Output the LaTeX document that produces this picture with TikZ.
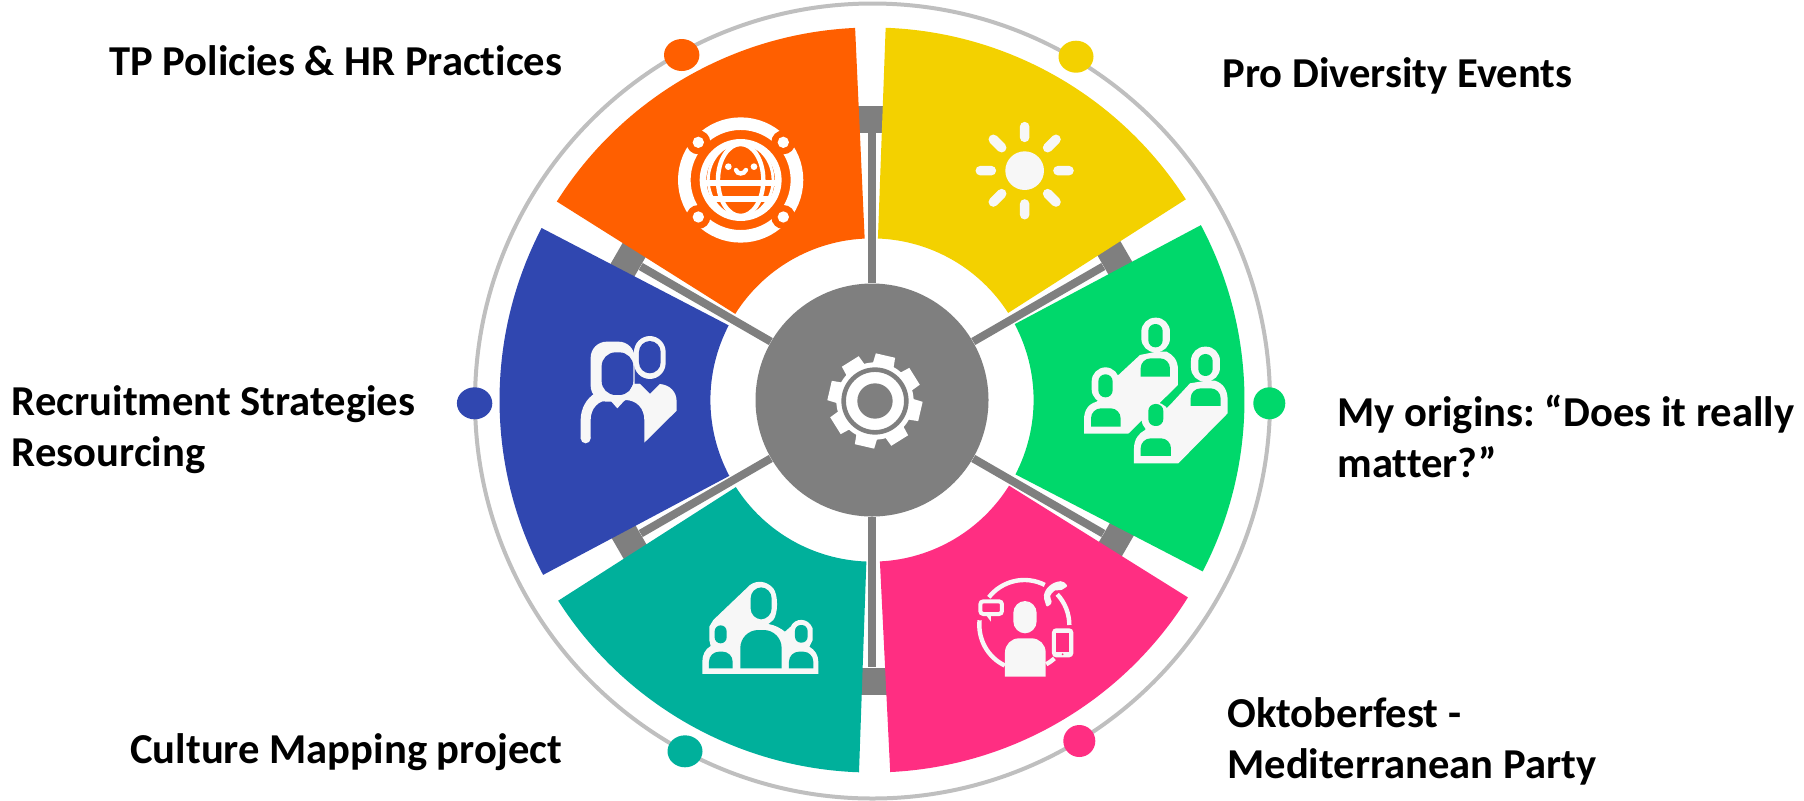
\documentclass[tikz,border=0pt]{standalone}
\usepackage{fontspec}
\setmainfont[Ligatures=CommonOff]{Carlito}
\usetikzlibrary{shapes.geometric}
\definecolor{segorange}{HTML}{FF5F00}
\definecolor{segyellow}{HTML}{F3D100}
\definecolor{seggreen}{HTML}{00D86B}
\definecolor{segpink}{HTML}{FF2E82}
\definecolor{segteal}{HTML}{00B09B}
\definecolor{segblue}{HTML}{3047B0}
\definecolor{hubgrey}{HTML}{7F7F7F}
\definecolor{ringgrey}{HTML}{BFBFBF}
\definecolor{iconwhite}{HTML}{F7F7F7}
\frenchspacing
\tikzset{
  lbl/.style={anchor=base west,inner sep=0pt,font=\fontsize{21.3}{25}\selectfont\bfseries},
  hubnode/.style={circle,fill=hubgrey,inner sep=0pt,minimum size=116.5pt},
  capblock/.style={rectangle,fill=hubgrey,inner sep=0pt,minimum width=13.5pt,minimum height=20pt},
  spoke/.style={draw=hubgrey,line width=4pt},
  dotnode/.style={ellipse,inner sep=0pt,minimum width=#1,minimum height=16pt},
}
\begin{document}
\begin{tikzpicture}[x=0.5pt,y=-0.5pt]
\useasboundingbox (0,0) rectangle (1804,800);

\draw[ringgrey,line width=2pt] (872.5,401) circle (397.5);

\begin{scope}[shift={(872,400)}]
\node[hubnode] (hub) at (0,0) {};
\node[capblock,rotate=90] (capA) at (270:281) {};
\node[capblock,rotate=30] (capB) at (330:281) {};
\node[capblock,rotate=-30] (capC) at (30:281) {};
\node[capblock,rotate=90] (capD) at (90:281) {};
\node[capblock,rotate=30] (capE) at (150:281) {};
\node[capblock,rotate=-30] (capF) at (210:281) {};
\draw[spoke] (hub) -- (capA);
\draw[spoke] (hub) -- (capB);
\draw[spoke] (hub) -- (capC);
\draw[spoke] (hub) -- (capD);
\draw[spoke] (hub) -- (capE);
\draw[spoke] (hub) -- (capF);

\fill[segorange] (212.2:372.5) arc (212.2:267.4:372.5) -- (267.4:161.6) arc (267.4:212.2:161.6) -- cycle;
\fill[segyellow] (272.1:372.5) arc (272.1:327.4:372.5) -- (327.4:161.6) arc (327.4:272.1:161.6) -- cycle;
\fill[seggreen] (332:372.5) arc (332:387.4:372.5) -- (387.4:161.6) arc (387.4:332:161.6) -- cycle;
\fill[segpink] (32:372.5) arc (32:87.2:372.5) -- (87.2:161.6) arc (87.2:32:161.6) -- cycle;
\fill[segteal] (92:372.5) arc (92:147.4:372.5) -- (147.4:161.6) arc (147.4:92:161.6) -- cycle;
\fill[segblue] (152:372.5) arc (152:207.5:372.5) -- (207.5:161.6) arc (207.5:152:161.6) -- cycle;
\end{scope}

\node[dotnode=17.7pt,fill=segorange] (dotorange) at (681.7,55) {};
\node[dotnode=17.5pt,fill=segyellow] (dotyellow) at (1076,56.7) {};
\node[dotnode=16pt,fill=seggreen] (dotgreen) at (1269.3,403.3) {};
\node[dotnode=16pt,fill=segpink] (dotpink) at (1079.3,741) {};
\node[dotnode=17.5pt,fill=segteal] (dotteal) at (685,751.3) {};
\node[dotnode=17.7pt,fill=segblue] (dotblue) at (474.6,403.3) {};

\node[lbl] (tp) at (109,75) {TP Policies \& HR Practices};
\node[lbl] (recruit) at (11.5,415) {Recruitment Strategies};
\node[lbl] (resource) at (11.5,466) {Resourcing};
\node[lbl] (culture) at (130,763) {Culture Mapping project};
\node[lbl] (pro) at (1222,87) {Pro Diversity Events};
\node[lbl] (origins) at (1337,426) {My origins: “Does it really};
\node[lbl] (matter) at (1337,477) {matter?”};
\node[lbl] (okto) at (1227,727) {Oktoberfest -};
\node[lbl] (medi) at (1227,778) {Mediterranean Party};

% gear
\begin{scope}[shift={(740,260)},scale=0.3333]
\fill[white] (405,423) circle (116);
\foreach \a in {283,328,13,58,103,148,193,238}
  \fill[white,shift={(405,423)}] (\a-18:105) -- (\a-12:143) -- (\a+12:143) -- (\a+18:105) -- cycle;
\draw[hubgrey,line width=2.3pt] (405,423) circle (94);
\fill[hubgrey] (405,423) circle (53);
\end{scope}

% globe
\begin{scope}[shift={(520,0)},scale=0.3333]
\draw[white,line width=6.3pt] (662,540) circle (169);
\fill[segorange] (535,427) circle (36);
\fill[segorange] (790,427) circle (36);
\fill[segorange] (535,651) circle (36);
\fill[segorange] (790,651) circle (36);
\fill[white] (535,427) circle (17);
\fill[white] (790,427) circle (17);
\fill[white] (535,651) circle (17);
\fill[white] (790,651) circle (17);
\draw[white,line width=3.3pt] (662,540) circle (113);
\draw[white,line width=2.2pt] (662,540) ellipse (68 and 108);
\draw[white,line width=1.4pt] (662,540) ellipse (97 and 110);
\draw[white,line width=3pt] (552,548) -- (772,548);
\draw[white,line width=3pt] (566,596) -- (758,596);
\fill[white] (625,500) circle (10);
\fill[white] (702,500) circle (10);
\draw[white,line width=2.2pt,line cap=round] (648,510) .. controls (652,524) and (672,524) .. (678,510);
\end{scope}

% sun
\begin{scope}[shift={(860,0)},scale=0.3333]
\fill[iconwhite] (494,512) circle (58);
\draw[iconwhite,line width=4.8pt,line cap=round] (494,380) -- (494,412) (494,644) -- (494,612)
  (361,512) -- (394,512) (627,512) -- (594,512)
  (400,418) -- (425,443) (588,418) -- (563,443) (400,606) -- (425,581) (588,606) -- (563,581);
\end{scope}

% green people
\begin{scope}[shift={(960,220)},scale=0.3333]
\fill[iconwhite] (372,641) -- (372,600) .. controls (372,570) and (385,552) .. (410,545) -- (470,470) -- (540,405) -- (590,395) -- (620,395) .. controls (640,405) and (654,420) .. (654,450) -- (654,495) -- (505,641) -- cycle;
\fill[iconwhite] (522,730) -- (522,685) .. controls (522,660) and (535,640) .. (555,630) -- (630,555) -- (690,490) -- (740,482) -- (765,482) .. controls (790,490) and (803,510) .. (803,540) -- (803,580) -- (655,730) -- cycle;
\fill[iconwhite,rounded corners=7pt] (544,293) rectangle (630,397);
\fill[iconwhite,rounded corners=7pt] (395,442) rectangle (478,550);
\fill[iconwhite,rounded corners=7pt] (693,380) rectangle (780,485);
\fill[iconwhite,rounded corners=7pt] (545,548) rectangle (630,640);
\fill[seggreen,rounded corners=3.5pt] (565,312) rectangle (608,382);
\fill[seggreen,rounded corners=3.5pt] (415,463) rectangle (458,532);
\fill[seggreen,rounded corners=3.5pt] (715,402) rectangle (758,468);
\fill[seggreen,rounded corners=3.5pt] (565,552) rectangle (610,618);
\fill[seggreen] (542,470) [rounded corners=5pt] -- (542,415) -- (630,415) [sharp corners] -- (630,470) -- cycle;
\fill[seggreen] (393,620) [rounded corners=5pt] -- (393,565) -- (482,565) [sharp corners] -- (482,620) -- cycle;
\fill[seggreen] (692,558) [rounded corners=5pt] -- (692,505) -- (782,505) [sharp corners] -- (782,558) -- cycle;
\fill[seggreen] (542,708) [rounded corners=5pt] -- (542,655) -- (633,655) [sharp corners] -- (633,708) -- cycle;
\end{scope}

% pink person
\begin{scope}[shift={(860,480)},scale=0.3333]
\draw[iconwhite,line width=2.2pt] (493,435) ++(115.8:135) arc (115.8:186:135);
\draw[iconwhite,line width=2.2pt] (493,435) ++(218:135) arc (218:297:135);
\draw[iconwhite,line width=2.2pt] (493,435) ++(317:135) arc (317:360:135);
\draw[iconwhite,line width=2.2pt] (493,435) ++(60.8:135) arc (60.8:48:135);
\fill[iconwhite,rounded corners=6pt] (460,363) rectangle (530,460);
\fill[iconwhite] (435,590) [rounded corners=7pt] -- (435,475) -- (557,475) [sharp corners] -- (557,590) -- cycle;
\draw[iconwhite,line width=2pt,rounded corners=1.5pt] (361,364) rectangle (426,402);
\fill[iconwhite] (378,405) -- (393,425) -- (393,405) -- cycle;
\fill[iconwhite,rounded corners=2pt] (576,445) rectangle (640,532);
\fill[segpink] (589,458) rectangle (628,515);
\fill[segpink] (608,523) circle (3);
\fill[iconwhite,rounded corners=1pt] (551,352) .. controls (555,325) and (575,306) .. (608,303) -- (624,318) -- (600,333) -- (590,328) .. controls (578,335) and (571,345) .. (570,355) -- (578,368) -- (560,382) -- cycle;
\end{scope}

% teal people
\begin{scope}[shift={(540,480)},scale=0.3333]
\fill[iconwhite] (487,582) -- (487,545) .. controls (487,525) and (495,508) .. (512,498) -- (508,480) -- (508,440) -- (520,420) -- (630,315) .. controls (650,300) and (680,302) .. (700,325) .. controls (715,345) and (715,400) .. (700,420) -- (685,432) .. controls (705,435) and (722,445) .. (735,455) -- (752,440) .. controls (765,412) and (805,412) .. (818,445) -- (818,480) -- (808,500) .. controls (825,510) and (835,525) .. (835,545) -- (835,582) -- cycle;
\fill[segteal,rounded corners=5.5pt] (632,322) rectangle (695,418);
\fill[segteal,rounded corners=3pt] (524,436) rectangle (560,490);
\fill[segteal,rounded corners=3pt] (765,435) rectangle (803,488);
\fill[segteal] (601,565) [rounded corners=9pt] -- (601,450) -- (725,450) [sharp corners] -- (725,565) -- cycle;
\fill[segteal] (507,565) [rounded corners=5pt] -- (507,515) -- (578,515) [sharp corners] -- (578,565) -- cycle;
\fill[segteal] (747,565) [rounded corners=5pt] -- (747,515) -- (820,515) [sharp corners] -- (820,565) -- cycle;
\end{scope}

% blue couple
\begin{scope}[shift={(460,220)},scale=0.3333]
\fill[iconwhite,rounded corners=8pt] (392,365) rectangle (524,545);
\fill[iconwhite,rounded corners=8pt] (522,348) rectangle (617,477);
\fill[iconwhite] (362,655) -- (362,600) .. controls (362,565) and (380,535) .. (405,520) -- (520,492) -- (540,492) -- (570,522) -- (600,492) .. controls (630,495) and (650,515) .. (650,545) -- (650,572) -- (553,668) -- (553,600) .. controls (553,565) and (530,540) .. (495,540) -- (472,565) -- (450,540) .. controls (415,540) and (392,565) .. (392,600) -- (392,655) -- cycle;
\fill[iconwhite] (377,655) circle (15);
\fill[segblue,rounded corners=7pt] (425,397) rectangle (520,525);
\fill[segblue,rounded corners=5.5pt] (537,363) rectangle (602,460);
\fill[iconwhite] (520,492) -- (540,492) -- (570,522) -- (560,540) -- (495,540) -- cycle;
\end{scope}
\end{tikzpicture}
\end{document}
